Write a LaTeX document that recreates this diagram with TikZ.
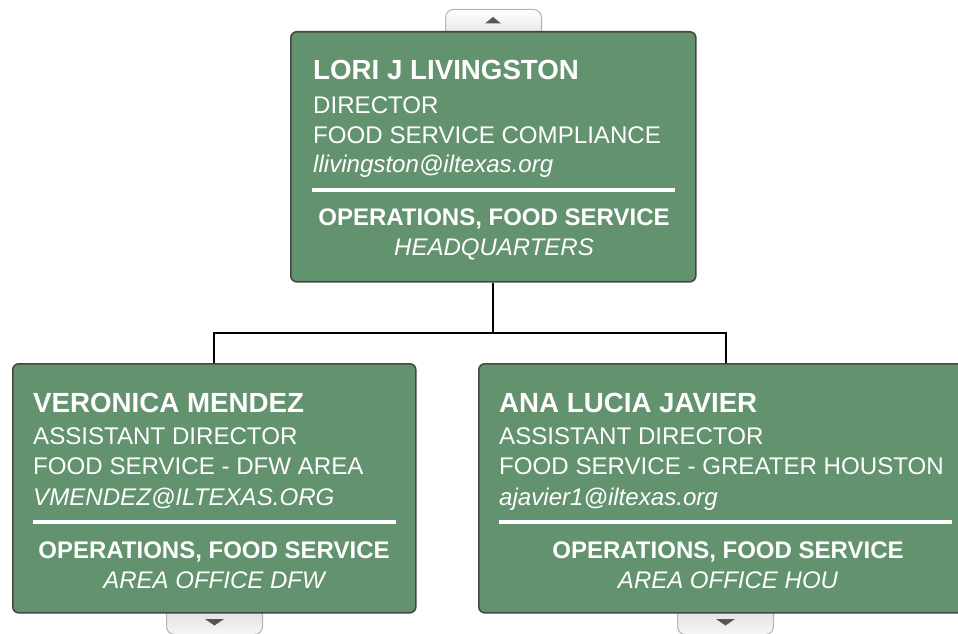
\documentclass[tikz,border=0pt]{standalone}
\usepackage{fontspec}
\setmainfont{Liberation Sans}
\definecolor{boxgreen}{HTML}{63926E}
\definecolor{boxborder}{HTML}{464646}
\definecolor{tabborder}{HTML}{B4B4B4}
\definecolor{tridark}{HTML}{555555}
\tikzset{
  card/.style={rectangle, draw=boxborder, line width=1.6pt, fill=boxgreen, rounded corners=6pt, anchor=north west, inner sep=0pt},
  tabbox/.style={rectangle, draw=tabborder, line width=1pt, rounded corners=8pt, anchor=north west, inner sep=0pt, minimum width=96pt},
  uptab/.style={tabbox, top color=white, bottom color=black!15},
  downtab/.style={tabbox, top color=black!18, bottom color=black!3},
  tri/.style={fill=tridark, draw=none},
  pname/.style={anchor=base west, inner sep=0pt, text=white, font=\fontsize{27.7}{30}\selectfont\bfseries},
  info/.style={anchor=base west, inner sep=0pt, text=white, font=\fontsize{24.1}{28}\selectfont},
  mail/.style={anchor=base west, inner sep=0pt, text=white, font=\fontsize{24.1}{28}\selectfont\itshape},
  dept/.style={anchor=base, inner sep=0pt, text=white, font=\fontsize{24}{28}\selectfont\bfseries},
  loc/.style={anchor=base, inner sep=0pt, text=white, font=\fontsize{24}{28}\selectfont\itshape},
  divider/.style={draw=white, line width=4pt},
  conn/.style={draw=black, line width=2pt}
}
\begin{document}
\begin{tikzpicture}[x=1pt,y=-1pt]
\useasboundingbox (0,0) rectangle (958,634);
\clip (0,0) rectangle (958,634);
\fill[white] (0,0) rectangle (958,634);
% tabs
\node[uptab, minimum height=36pt] (toptab) at (445,9) {};
\node[downtab, minimum height=40pt] (lefttab) at (166,594) {};
\node[downtab, minimum height=40pt] (righttab) at (677,594) {};
% cards
\node[card, minimum width=405pt, minimum height=250pt] (top) at (290,31) {};
\node[card, minimum width=403pt, minimum height=249pt] (left) at (12,363) {};
\node[card, minimum width=494pt, minimum height=249pt] (right) at (478,363) {};
% triangles
\fill[tri] (485,23.5) -- (501,23.5) -- (493,17) -- cycle;
\fill[tri] (205,619) -- (224,619) -- (214.5,625.5) -- cycle;
\fill[tri] (716,619) -- (735,619) -- (725.5,625.5) -- cycle;
% connectors
\coordinate (junction) at (top.south |- 0,333);
\draw[conn] (top.south) -- (junction);
\draw[conn] (junction) -| (left.north);
\draw[conn] (junction) -| (right.north);
% top card text
\node[pname] (tn) at (313,80) {LORI J LIVINGSTON};
\node[info] (tt) at (313,113) {DIRECTOR};
\node[info] (td) at (313,143) {FOOD SERVICE COMPLIANCE};
\node[mail] (te) at (313,172) {llivingston@iltexas.org};
\draw[divider] (312,189.5) -- (675,189.5);
\node[dept] (tdep) at (494,225.5) {OPERATIONS, FOOD SERVICE};
\node[loc] (tloc) at (494,255.5) {HEADQUARTERS};
% left card text
\node[pname] (ln) at (33,412) {VERONICA MENDEZ};
\node[info] (lt) at (33,444) {ASSISTANT DIRECTOR};
\node[info] (ld) at (33,474) {FOOD SERVICE - DFW AREA};
\node[mail] (le) at (33,505) {VMENDEZ@ILTEXAS.ORG};
\draw[divider] (33,521.5) -- (396,521.5);
\node[dept] (ldep) at (214,558) {OPERATIONS, FOOD SERVICE};
\node[loc] (lloc) at (214,588) {AREA OFFICE DFW};
% right card text
\node[pname] (rn) at (499,412) {ANA LUCIA JAVIER};
\node[info] (rt) at (499,444) {ASSISTANT DIRECTOR};
\node[info] (rd) at (499,474) {FOOD SERVICE - GREATER HOUSTON};
\node[mail] (re) at (499,505) {ajavier1@iltexas.org};
\draw[divider] (499,521.5) -- (952,521.5);
\node[dept] (rdep) at (728,558) {OPERATIONS, FOOD SERVICE};
\node[loc] (rloc) at (728,588) {AREA OFFICE HOU};
\end{tikzpicture}
\end{document}
